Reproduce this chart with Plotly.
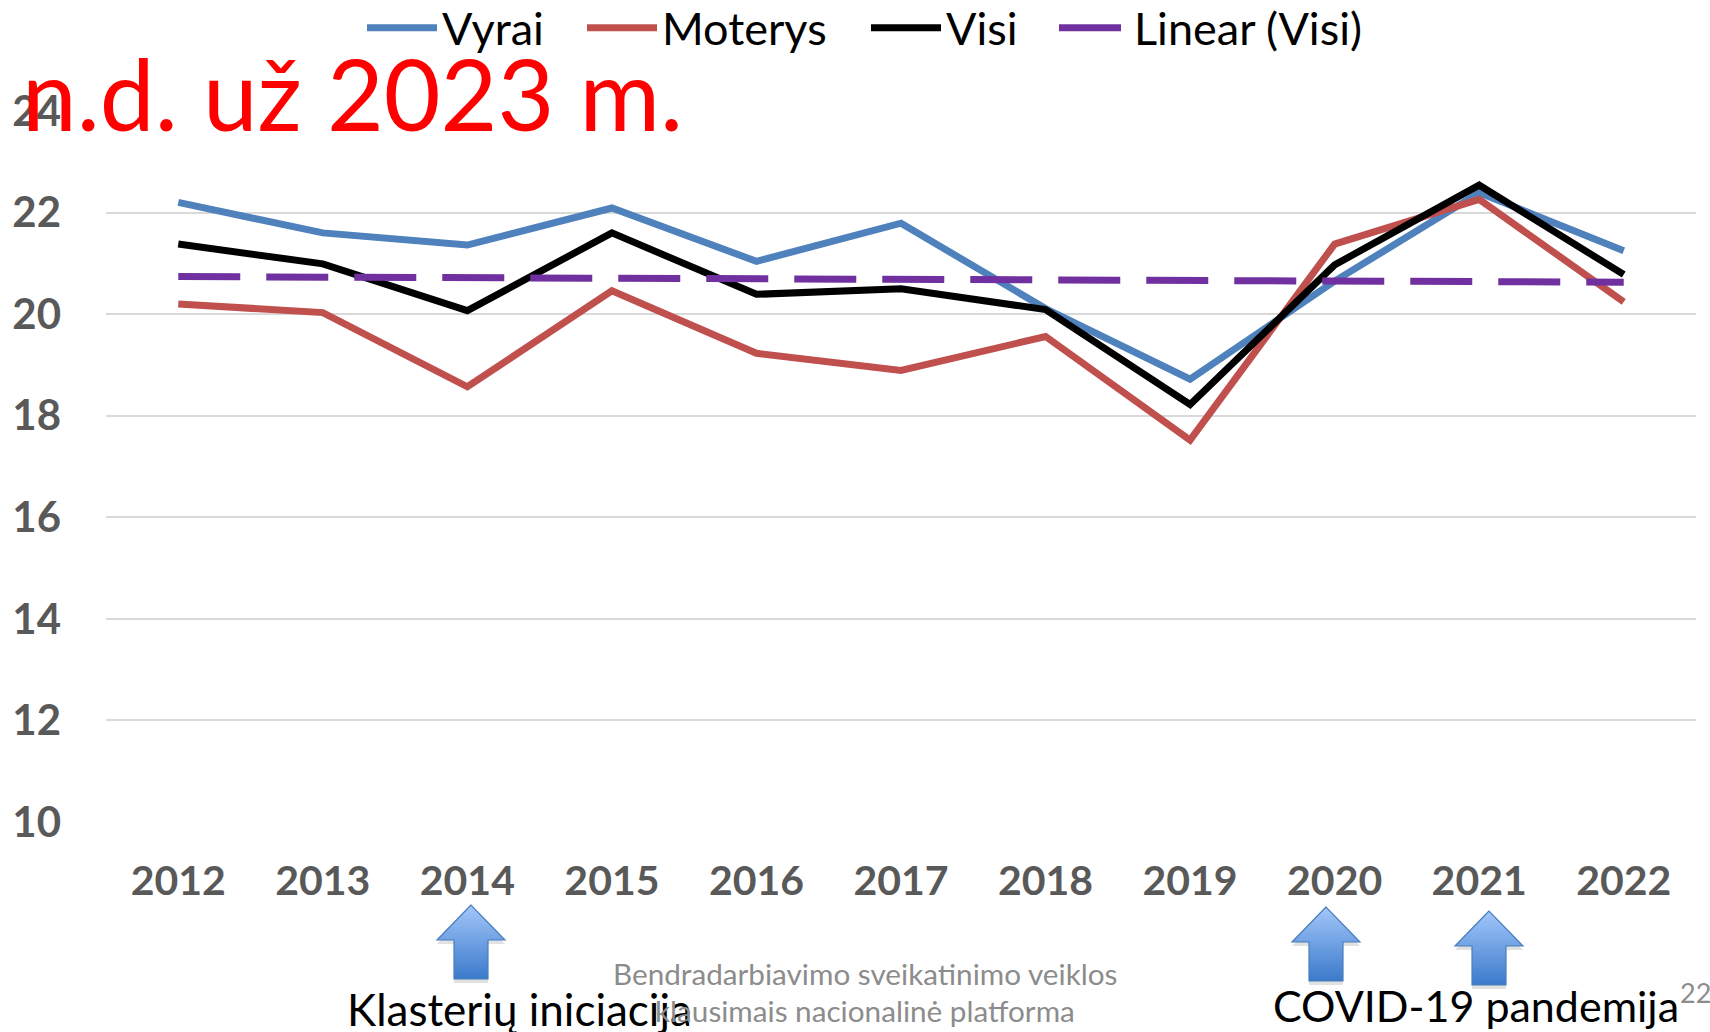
import base64
import plotly.graph_objects as go

W, H = 1710, 1032
L, R, T, B = 106, 1696, 111, 822
OFF = 8  # the figure starts this far above the page, so the legend can sit against the top edge
FH = H + OFF

years = ["2012", "2013", "2014", "2015", "2016", "2017", "2018", "2019", "2020", "2021", "2022"]
vyrai = [22.20, 21.60, 21.36, 22.09, 21.04, 21.79, 20.11, 18.72, 20.65, 22.39, 21.25]
moterys = [20.20, 20.03, 18.57, 20.46, 19.23, 18.89, 19.56, 17.52, 21.38, 22.26, 20.24]
visi = [21.38, 20.99, 20.07, 21.60, 20.39, 20.50, 20.09, 18.22, 20.97, 22.54, 20.78]
linear = [20.74, 20.73, 20.72, 20.71, 20.70, 20.69, 20.68, 20.67, 20.65, 20.64, 20.63]
y_ticks = [10, 12, 14, 16, 18, 20, 22, 24]


def px(x):
    return x / W


def py(y):
    return 1 - (y + OFF) / FH


fig = go.Figure()
series = [
    ("Vyrai", vyrai, "#4F81BD", "solid", "legend", 362),
    ("Moterys", moterys, "#C0504D", "solid", "legend2", 582),
    ("Visi", visi, "#000000", "solid", "legend3", 866),
    ("Linear (Visi)", linear, "#7030A0", "62px,26px", "legend4", 1054),
]
legends = {}
for name, vals, col, dash, leg, lx in series:
    fig.add_trace(go.Scatter(x=years, y=vals, name=name, mode="lines", legend=leg,
                             line=dict(color=col, width=7, dash=dash)))
    legends[leg] = dict(x=px(lx), y=1, xanchor="left", yanchor="top",
                        font=dict(family="Lato", size=45, color="#000000"),
                        itemwidth=70, bgcolor="rgba(0,0,0,0)")

ARROW = (
    "<svg xmlns='http://www.w3.org/2000/svg' width='80' height='90' viewBox='0 0 80 90'>"
    "<defs><linearGradient id='g' x1='0' y1='0' x2='0' y2='1'>"
    "<stop offset='0' stop-color='#A3C7FA'/><stop offset='1' stop-color='#3B7ACB'/>"
    "</linearGradient></defs>"
    "<polygon points='40,3 6,38 23,38 23,77 57,77 57,38 74,38' fill='#777' opacity='.22' transform='translate(0,2)'/>"
    "<polygon points='40,1 6,36 23,36 23,75 57,75 57,36 74,36' fill='url(#g)' stroke='#4A7EBB' stroke-width='1.2'/>"
    "</svg>"
)
arrow_src = "data:image/svg+xml;base64," + base64.b64encode(ARROW.encode()).decode()

images = []
for ax, ay in [(471, 904), (1326, 906), (1489, 910)]:
    images.append(dict(source=arrow_src, xref="paper", yref="paper",
                       x=px(ax - 40), y=py(ay), sizex=80 / W, sizey=90 / FH,
                       sizing="stretch", xanchor="left", yanchor="top", layer="above"))


def note(text, x, y, size, color, anchor="left", font="Lato"):
    fig.add_annotation(text=text, xref="paper", yref="paper", x=px(x), y=py(y),
                       xanchor=anchor, yanchor="middle", showarrow=False,
                       font=dict(family=font, size=size, color=color))


note("n.d. už 2023 m.", 20, 93, 98, "#FF0000")
note("Klasterių iniciacija", 345, 1009, 44, "#000000")
note("Bendradarbiavimo sveikatinimo veiklos", 865, 973, 29.7, "#8C8C8C", "center")
note("klausimais nacionalinė platforma", 865, 1010, 29.7, "#8C8C8C", "center")
note("COVID-19 pandemija", 1271, 1005, 43, "#000000")
note("22", 1678, 992, 27, "#8C8C8C")

fig.update_layout(
    width=W, height=FH, autosize=False,
    margin=dict(l=0, r=0, t=0, b=0, pad=0),
    paper_bgcolor="white", plot_bgcolor="rgba(0,0,0,0)",
    font=dict(family="Lato"),
    showlegend=True,
    images=images,
    xaxis=dict(type="category", range=[-0.5, 10.5], domain=[L / W, R / W], automargin=False,
               showgrid=False, zeroline=False, showline=False, ticks="",
               tickfont=dict(family="Lato", size=41, color="#595959", weight="bold"),
               ticklabelstandoff=31),
    yaxis=dict(range=[10, 24], domain=[py(B), py(T)], automargin=False,
               tickvals=y_ticks, showgrid=True, gridcolor="#D9D9D9", gridwidth=2,
               zeroline=False, showline=False, ticks="",
               tickfont=dict(family="Lato", size=42, color="#595959", weight="bold"),
               ticklabelstandoff=44),
    **legends,
)

fig.write_html("out.html", config={"displayModeBar": False},
               post_script=f"document.body.style.margin='-{OFF}px 0 0 0';document.documentElement.style.overflow='hidden';")
